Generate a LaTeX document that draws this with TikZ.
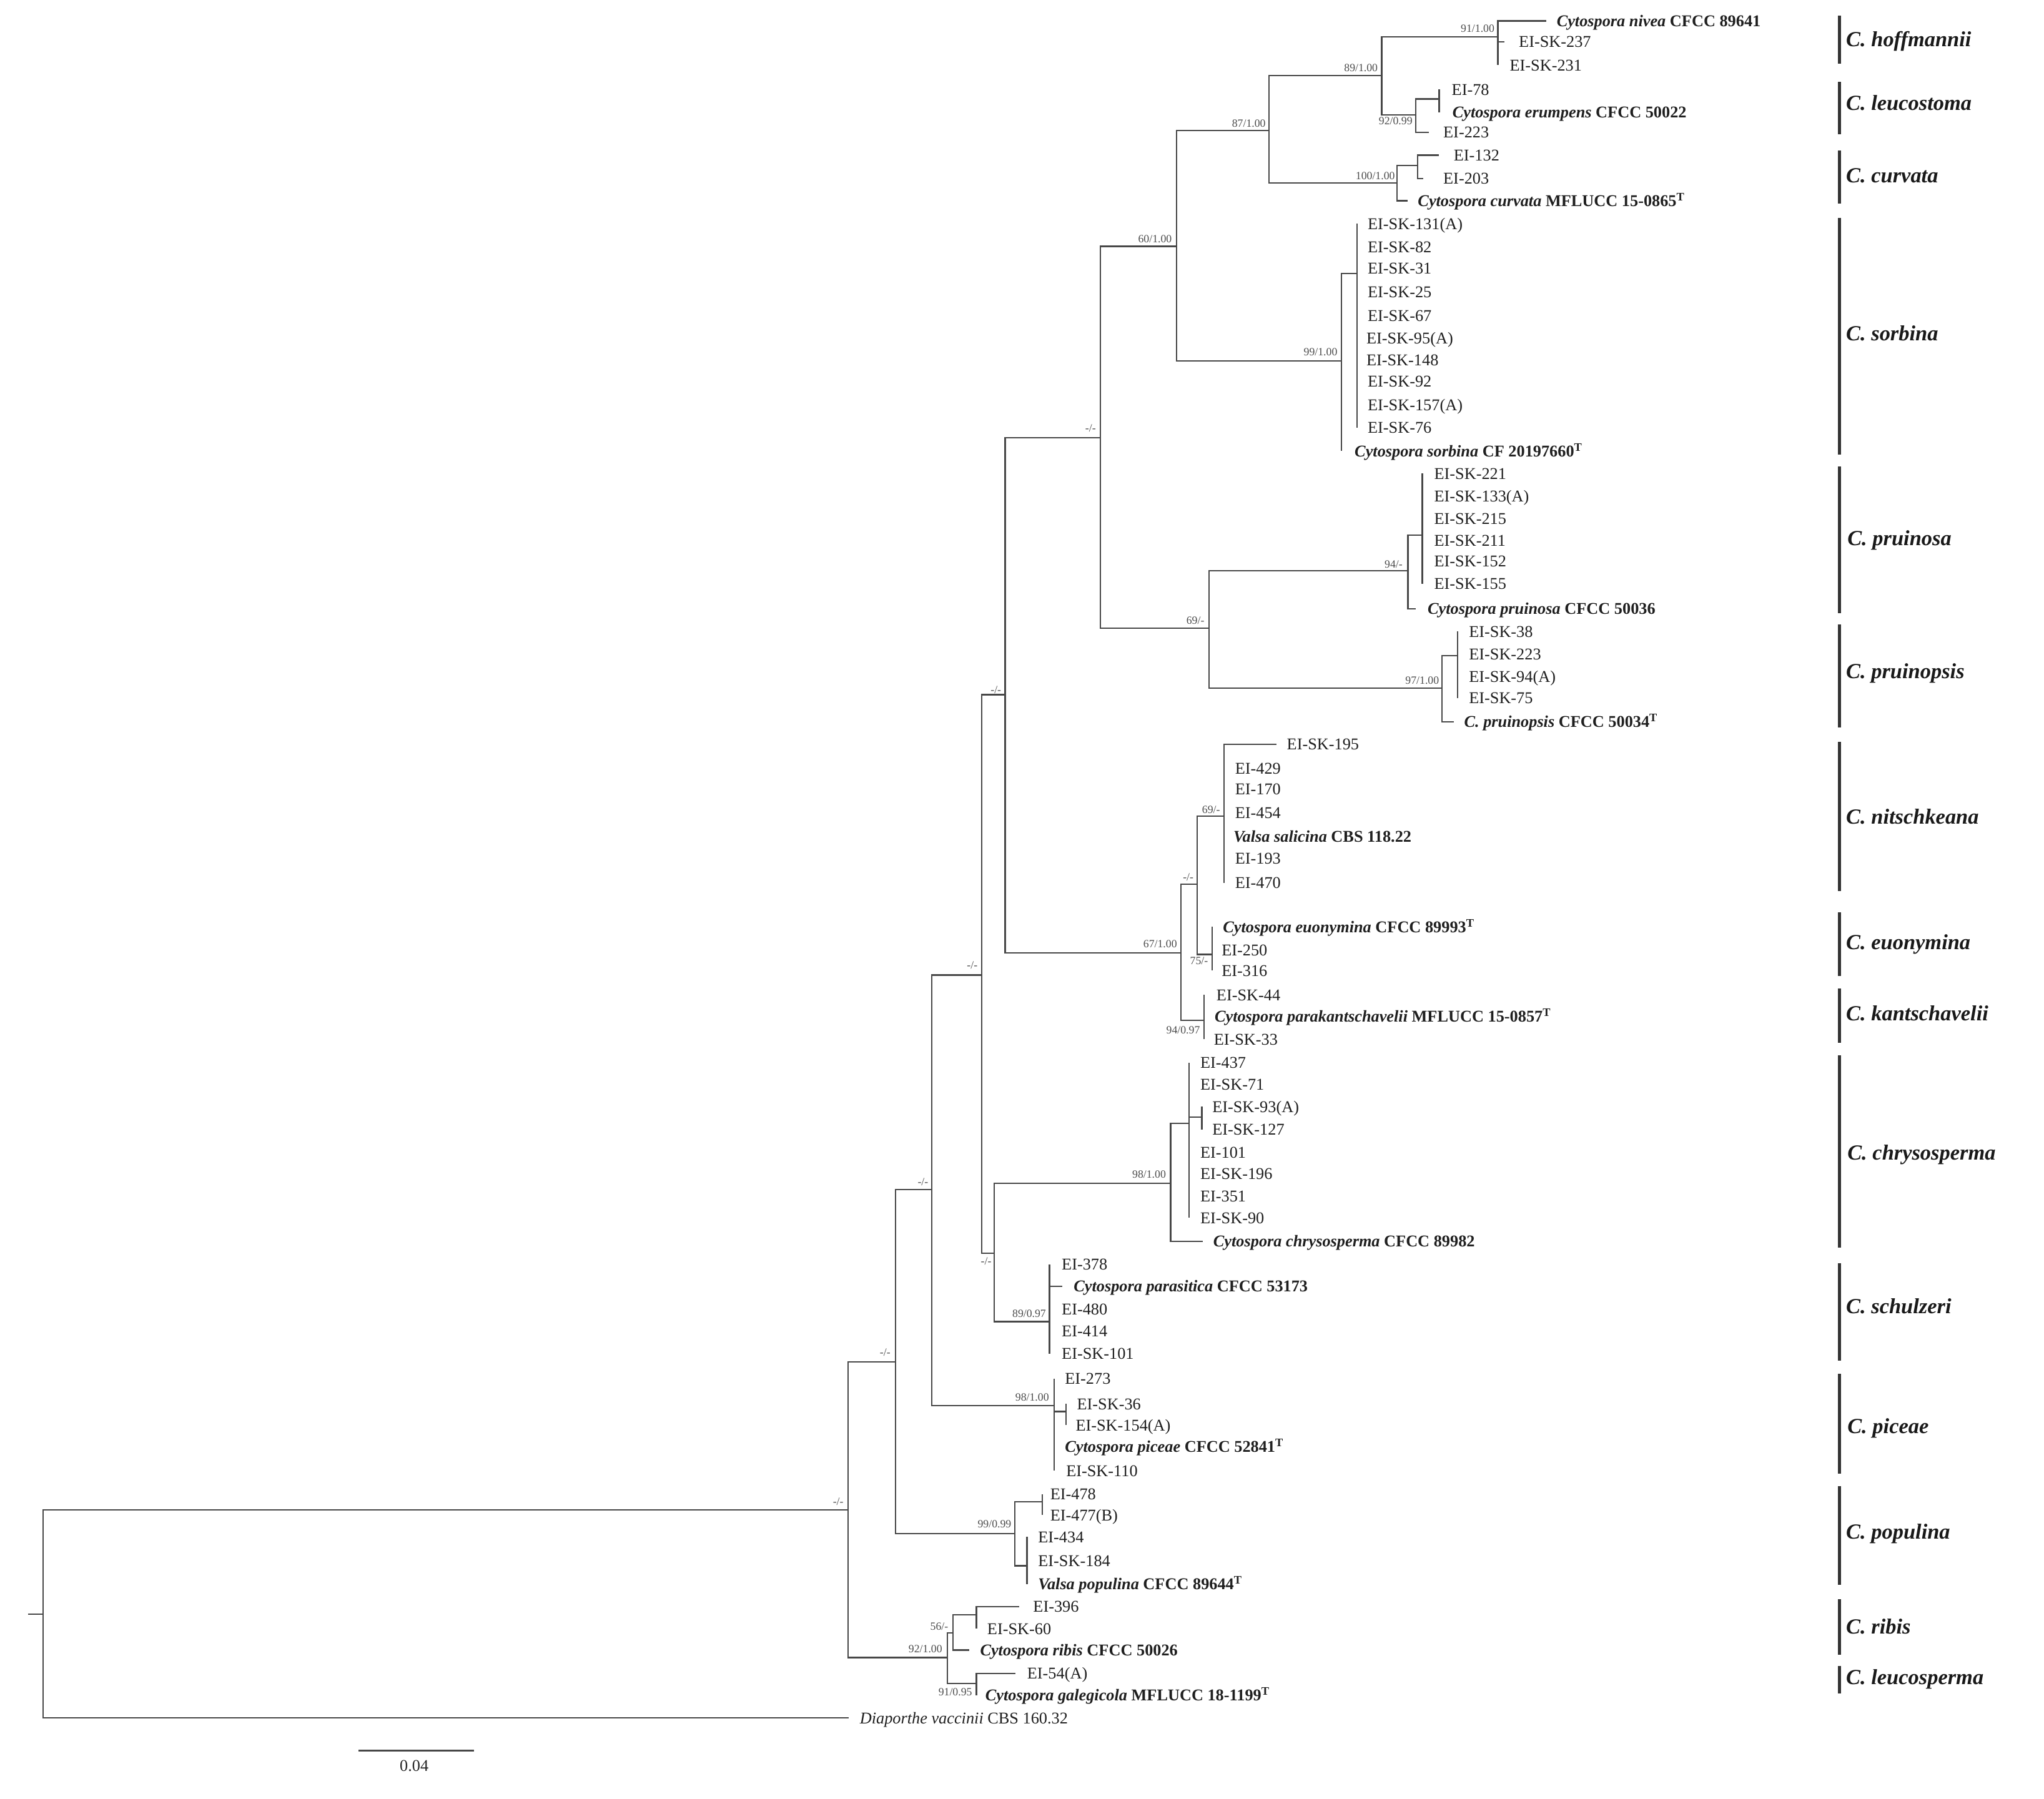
\documentclass[tikz,border=0pt]{standalone}
\usepackage{fontspec}
\setmainfont{Liberation Serif}
\newcommand\leaf[5]{\coordinate (#1e) at (#2,#4); \node[tiplab] (#1) at (#3,#4) {#5};}
\newcommand\bi[2]{\textbf{\textit{#1} #2}}
\newcommand\typ{\textsuperscript{T}}
\tikzset{
 branch/.style={draw=black!72, line width=1.1pt},
 tiplab/.style={anchor=base west, inner sep=0pt, yshift=-4.3pt, font=\fontsize{12.6}{14}\selectfont, text=black!88},
 suplab/.style={anchor=base, inner sep=0pt, yshift=-2.9pt, font=\fontsize{8.5}{10}\selectfont, text=black!70},
 cladelab/.style={anchor=base west, inner sep=0pt, yshift=-5.5pt, font=\fontsize{16.5}{18}\selectfont\bfseries\itshape, text=black!90},
 cladebar/.style={draw=black!80, line width=2.4pt},
}
\begin{document}
\begin{tikzpicture}[x=1pt,y=-1pt]
\useasboundingbox (0,0) rectangle (1568,1380);
% ---------- internal nodes ----------
\coordinate (rs) at (21.5,1238.5);
\coordinate (R) at (33,1238.5);
\coordinate (N1) at (650.6,1158.5);
\coordinate (N2) at (687,1045);
\coordinate (NRL) at (726.6,1271.7);
\coordinate (N3) at (714.8,912.6);
\coordinate (NPop) at (778.5,1176.6);
\coordinate (N4) at (753,748);
\coordinate (NPic) at (808.6,1078.5);
\coordinate (N5) at (771,533);
\coordinate (N6) at (762.7,961.5);
\coordinate (N7) at (844,335.7);
\coordinate (N67) at (906,731.2);
\coordinate (N60) at (902.5,189);
\coordinate (N69) at (927.5,482);
\coordinate (N87) at (973.5,100);
\coordinate (NSor) at (1029,277);
\coordinate (N89) at (1060,58);
\coordinate (NCur) at (1071.7,140.4);
\coordinate (NHof) at (1149,28.4);
\coordinate (NLeu) at (1086,88);
\coordinate (NLeu2) at (1104,76);
\coordinate (NCur2) at (1087.5,127);
\coordinate (NSor2) at (1041,210);
\coordinate (NPru) at (1080,438);
\coordinate (NPru2) at (1091,410.5);
\coordinate (NPsis) at (1106,528);
\coordinate (NPsis2) at (1118,503);
\coordinate (N67a) at (918.3,678.4);
\coordinate (NNit) at (939,626);
\coordinate (NEuo) at (930,732.3);
\coordinate (NKan) at (923.5,782.8);
\coordinate (NChr) at (898,907.8);
\coordinate (NChr2) at (912,862);
\coordinate (NChr3) at (922,857);
\coordinate (NSch) at (805,1014);
\coordinate (NPic2) at (817.7,1083);
\coordinate (NPop2) at (799.4,1152.3);
\coordinate (NPop3) at (787.8,1201.2);
\coordinate (NRib) at (731.2,1252.8);
\coordinate (NRib2) at (749,1239);
\coordinate (NLsp) at (749,1291.6);
% ---------- tips ----------
\leaf{t01}{1186}{1194}{16}{\bi{Cytospora nivea}{CFCC 89641}}
\leaf{t02}{1154}{1165}{32}{EI-SK-237}
\leaf{t03}{1149}{1158}{50}{EI-SK-231}
\leaf{t04}{1104}{1113.5}{68.7}{EI-78}
\leaf{t05}{1104}{1114}{86}{\bi{Cytospora erumpens}{CFCC 50022}}
\leaf{t06}{1096}{1107}{101.5}{EI-223}
\leaf{t07}{1104}{1115}{119}{EI-132}
\leaf{t08}{1092}{1107}{137}{EI-203}
\leaf{t09}{1080}{1087.5}{154}{\bi{Cytospora curvata}{MFLUCC 15-0865\typ}}
\leaf{t10}{1041}{1049}{171.6}{EI-SK-131(A)}
\leaf{t11}{1041}{1049}{189.3}{EI-SK-82}
\leaf{t12}{1041}{1049}{205.9}{EI-SK-31}
\leaf{t13}{1041}{1049}{224.2}{EI-SK-25}
\leaf{t14}{1041}{1049}{242.2}{EI-SK-67}
\leaf{t15}{1041}{1048}{259.5}{EI-SK-95(A)}
\leaf{t16}{1041}{1048}{276}{EI-SK-148}
\leaf{t17}{1041}{1049}{292.7}{EI-SK-92}
\leaf{t18}{1041}{1049}{310.8}{EI-SK-157(A)}
\leaf{t19}{1041}{1049}{328}{EI-SK-76}
\leaf{t20}{1029}{1039}{346}{\bi{Cytospora sorbina}{CF 20197660\typ}}
\leaf{t21}{1091}{1100}{363.3}{EI-SK-221}
\leaf{t22}{1091}{1100}{380.8}{EI-SK-133(A)}
\leaf{t23}{1091}{1100}{398}{EI-SK-215}
\leaf{t24}{1091}{1100}{414.7}{EI-SK-211}
\leaf{t25}{1091}{1100}{430.6}{EI-SK-152}
\leaf{t26}{1091}{1100}{447.9}{EI-SK-155}
\leaf{t27}{1086}{1095}{467}{\bi{Cytospora pruinosa}{CFCC 50036}}
\leaf{t28}{1118}{1126.7}{484.4}{EI-SK-38}
\leaf{t29}{1118}{1126.7}{502}{EI-SK-223}
\leaf{t30}{1118}{1126.7}{519}{EI-SK-94(A)}
\leaf{t31}{1118}{1126.7}{535.4}{EI-SK-75}
\leaf{t32}{1115.3}{1123}{553.7}{\bi{C. pruinopsis}{CFCC 50034\typ}}
\leaf{t33}{979}{987}{571}{EI-SK-195}
\leaf{t34}{939}{947.3}{589.3}{EI-429}
\leaf{t35}{939}{947.3}{605.4}{EI-170}
\leaf{t36}{939}{947.3}{623.5}{EI-454}
\leaf{t37}{939}{946}{641.5}{\bi{Valsa salicina}{CBS 118.22}}
\leaf{t38}{939}{947.3}{658.7}{EI-193}
\leaf{t39}{939}{947.3}{677.4}{EI-470}
\leaf{t40}{930}{938}{711}{\bi{Cytospora euonymina}{CFCC 89993\typ}}
\leaf{t41}{930}{937}{729}{EI-250}
\leaf{t42}{930}{937}{744.5}{EI-316}
\leaf{t43}{923.5}{933}{763.2}{EI-SK-44}
\leaf{t44}{923.5}{931.6}{779.6}{\bi{Cytospora parakantschavelii}{MFLUCC 15-0857\typ}}
\leaf{t45}{923.5}{931}{797.2}{EI-SK-33}
\leaf{t46}{912}{920.6}{815.2}{EI-437}
\leaf{t47}{912}{920.6}{831.8}{EI-SK-71}
\leaf{t48}{922}{929.8}{849}{EI-SK-93(A)}
\leaf{t49}{922}{929.8}{866.5}{EI-SK-127}
\leaf{t50}{912}{920.6}{883.9}{EI-101}
\leaf{t51}{912}{920.6}{900.6}{EI-SK-196}
\leaf{t52}{912}{920.6}{917.6}{EI-351}
\leaf{t53}{912}{920.6}{934.3}{EI-SK-90}
\leaf{t54}{922.7}{930.6}{952.3}{\bi{Cytospora chrysosperma}{CFCC 89982}}
\leaf{t55}{805}{814.3}{970}{EI-378}
\leaf{t56}{815}{823.5}{986.8}{\bi{Cytospora parasitica}{CFCC 53173}}
\leaf{t57}{805}{814.3}{1004.2}{EI-480}
\leaf{t58}{805}{814.3}{1021.2}{EI-414}
\leaf{t59}{805}{814.3}{1038.4}{EI-SK-101}
\leaf{t60}{808.6}{816.8}{1057.6}{EI-273}
\leaf{t61}{817.7}{826}{1077}{EI-SK-36}
\leaf{t62}{817.7}{825}{1093.3}{EI-SK-154(A)}
\leaf{t63}{808.6}{816.8}{1109.7}{\bi{Cytospora piceae}{CFCC 52841\typ}}
\leaf{t64}{808.6}{817.7}{1128.3}{EI-SK-110}
\leaf{t65}{799.4}{805.5}{1146.3}{EI-478}
\leaf{t66}{799.4}{805.5}{1162.3}{EI-477(B)}
\leaf{t67}{787.8}{796.2}{1179.2}{EI-434}
\leaf{t68}{787.8}{796.2}{1197.4}{EI-SK-184}
\leaf{t69}{787.8}{796.2}{1215.4}{\bi{Valsa populina}{CFCC 89644\typ}}
\leaf{t70}{781.6}{792.4}{1232.5}{EI-396}
\leaf{t71}{749}{757.2}{1249.5}{EI-SK-60}
\leaf{t72}{743.5}{751.7}{1266}{\bi{Cytospora ribis}{CFCC 50026}}
\leaf{t73}{779}{787.8}{1283.9}{EI-54(A)}
\leaf{t74}{749}{755.7}{1300.5}{\bi{Cytospora galegicola}{MFLUCC 18-1199\typ}}
\leaf{t75}{651}{659.4}{1318}{\textit{Diaporthe vaccinii} CBS 160.32}
% ---------- branches ----------
\draw[branch] (rs) -- (R);
\draw[branch] (R) |- (N1);
\draw[branch] (R) |- (t75e);
\draw[branch] (N1) |- (N2);
\draw[branch] (N1) |- (NRL);
\draw[branch] (N2) |- (N3);
\draw[branch] (N2) |- (NPop);
\draw[branch] (N3) |- (N4);
\draw[branch] (N3) |- (NPic);
\draw[branch] (N4) |- (N5);
\draw[branch] (N4) |- (N6);
\draw[branch] (N5) |- (N7);
\draw[branch] (N5) |- (N67);
\draw[branch] (N7) |- (N60);
\draw[branch] (N7) |- (N69);
\draw[branch] (N60) |- (N87);
\draw[branch] (N60) |- (NSor);
\draw[branch] (N87) |- (N89);
\draw[branch] (N87) |- (NCur);
\draw[branch] (N89) |- (NHof);
\draw[branch] (N89) |- (NLeu);
\foreach \c in {t01e,t02e,t03e} \draw[branch] (NHof) |- (\c);
\draw[branch] (NLeu) |- (NLeu2);
\draw[branch] (NLeu) |- (t06e);
\foreach \c in {t04e,t05e} \draw[branch] (NLeu2) |- (\c);
\draw[branch] (NCur) |- (NCur2);
\draw[branch] (NCur) |- (t09e);
\foreach \c in {t07e,t08e} \draw[branch] (NCur2) |- (\c);
\draw[branch] (NSor) |- (NSor2);
\draw[branch] (NSor) |- (t20e);
\foreach \c in {t10e,t11e,t12e,t13e,t14e,t15e,t16e,t17e,t18e,t19e} \draw[branch] (NSor2) |- (\c);
\draw[branch] (N69) |- (NPru);
\draw[branch] (N69) |- (NPsis);
\draw[branch] (NPru) |- (NPru2);
\draw[branch] (NPru) |- (t27e);
\foreach \c in {t21e,t22e,t23e,t24e,t25e,t26e} \draw[branch] (NPru2) |- (\c);
\draw[branch] (NPsis) |- (NPsis2);
\draw[branch] (NPsis) |- (t32e);
\foreach \c in {t28e,t29e,t30e,t31e} \draw[branch] (NPsis2) |- (\c);
\draw[branch] (N67) |- (N67a);
\draw[branch] (N67) |- (NKan);
\draw[branch] (N67a) |- (NNit);
\draw[branch] (N67a) |- (NEuo);
\foreach \c in {t33e,t34e,t35e,t36e,t37e,t38e,t39e} \draw[branch] (NNit) |- (\c);
\foreach \c in {t40e,t41e,t42e} \draw[branch] (NEuo) |- (\c);
\foreach \c in {t43e,t44e,t45e} \draw[branch] (NKan) |- (\c);
\draw[branch] (N6) |- (NChr);
\draw[branch] (N6) |- (NSch);
\draw[branch] (NChr) |- (NChr2);
\draw[branch] (NChr) |- (t54e);
\foreach \c in {t46e,t47e,NChr3,t50e,t51e,t52e,t53e} \draw[branch] (NChr2) |- (\c);
\foreach \c in {t48e,t49e} \draw[branch] (NChr3) |- (\c);
\foreach \c in {t55e,t56e,t57e,t58e,t59e} \draw[branch] (NSch) |- (\c);
\foreach \c in {t60e,NPic2,t63e,t64e} \draw[branch] (NPic) |- (\c);
\foreach \c in {t61e,t62e} \draw[branch] (NPic2) |- (\c);
\draw[branch] (NPop) |- (NPop2);
\draw[branch] (NPop) |- (NPop3);
\foreach \c in {t65e,t66e} \draw[branch] (NPop2) |- (\c);
\foreach \c in {t67e,t68e,t69e} \draw[branch] (NPop3) |- (\c);
\draw[branch] (NRL) |- (NRib);
\draw[branch] (NRL) |- (NLsp);
\draw[branch] (NRib) |- (NRib2);
\draw[branch] (NRib) |- (t72e);
\foreach \c in {t70e,t71e} \draw[branch] (NRib2) |- (\c);
\foreach \c in {t73e,t74e} \draw[branch] (NLsp) |- (\c);
% ---------- support values ----------
\node[suplab] (s01) at (643,1152) {-/-};
\node[suplab] (s02) at (679,1037.6) {-/-};
\node[suplab] (s03) at (708,906.4) {-/-};
\node[suplab] (s04) at (745.8,740.6) {-/-};
\node[suplab] (s05) at (764,529) {-/-};
\node[suplab] (s06) at (836.6,328.6) {-/-};
\node[suplab] (s07) at (886,183) {60/1.00};
\node[suplab] (s08) at (958,94.4) {87/1.00};
\node[suplab] (s09) at (1044,52) {89/1.00};
\node[suplab] (s10) at (1133.5,21.6) {91/1.00};
\node[suplab] (s11) at (1070.6,92.6) {92/0.99};
\node[suplab] (s12) at (1055,135) {100/1.00};
\node[suplab] (s13) at (1013,270) {99/1.00};
\node[suplab] (s14) at (917,476) {69/-};
\node[suplab] (s15) at (1069,432.8) {94/-};
\node[suplab] (s16) at (1091,522) {97/1.00};
\node[suplab] (s17) at (890,724) {67/1.00};
\node[suplab] (s18) at (911.5,673) {-/-};
\node[suplab] (s19) at (929,621) {69/-};
\node[suplab] (s20) at (919.8,736.8) {75/-};
\node[suplab] (s21) at (907.6,790.2) {94/0.97};
\node[suplab] (s22) at (756.5,967.6) {-/-};
\node[suplab] (s23) at (881.5,901) {98/1.00};
\node[suplab] (s24) at (789.5,1007.5) {89/0.97};
\node[suplab] (s25) at (791.8,1072) {98/1.00};
\node[suplab] (s26) at (762.9,1169) {99/0.99};
\node[suplab] (s27) at (709.9,1265) {92/1.00};
\node[suplab] (s28) at (720.5,1247.5) {56/-};
\node[suplab] (s29) at (732.8,1298) {91/0.95};
% ---------- clade bars and names ----------
\draw[cladebar] (1411,12) -- (1411,49);
\draw[cladebar] (1411,63) -- (1411,103);
\draw[cladebar] (1411,115.5) -- (1411,156);
\draw[cladebar] (1411,167) -- (1411,349);
\draw[cladebar] (1411,358) -- (1411,470.5);
\draw[cladebar] (1411,479) -- (1411,558);
\draw[cladebar] (1411,569) -- (1411,683.6);
\draw[cladebar] (1411,699.8) -- (1411,749);
\draw[cladebar] (1411,758.4) -- (1411,800);
\draw[cladebar] (1411,809.7) -- (1411,957);
\draw[cladebar] (1411,969) -- (1411,1043.7);
\draw[cladebar] (1411,1054) -- (1411,1130.6);
\draw[cladebar] (1411,1140) -- (1411,1216);
\draw[cladebar] (1411,1227) -- (1411,1269.5);
\draw[cladebar] (1411,1278) -- (1411,1299);
\node[cladelab] (c01) at (1416,30) {C. hoffmannii};
\node[cladelab] (c02) at (1416,79) {C. leucostoma};
\node[cladelab] (c03) at (1416,134.8) {C. curvata};
\node[cladelab] (c04) at (1416,255.8) {C. sorbina};
\node[cladelab] (c05) at (1417,412.8) {C. pruinosa};
\node[cladelab] (c06) at (1416,515) {C. pruinopsis};
\node[cladelab] (c07) at (1416,626.6) {C. nitschkeana};
\node[cladelab] (c08) at (1416,723) {C. euonymina};
\node[cladelab] (c09) at (1416,777.6) {C. kantschavelii};
\node[cladelab] (c10) at (1417,884.5) {C. chrysosperma};
\node[cladelab] (c11) at (1416,1002) {C. schulzeri};
\node[cladelab] (c12) at (1417,1094) {C. piceae};
\node[cladelab] (c13) at (1416,1175) {C. populina};
\node[cladelab] (c14) at (1416,1248) {C. ribis};
\node[cladelab] (c15) at (1416,1286.7) {C. leucosperma};
% ---------- scale bar ----------
\coordinate (sb1) at (275,1343);
\coordinate (sb2) at (363.5,1343);
\draw[branch, line width=1.6pt] (sb1) -- (sb2);
\node[anchor=base, inner sep=0pt, yshift=-4.3pt, font=\fontsize{12.6}{14}\selectfont, text=black!85] (sbl) at (317.7,1354.7) {0.04};
\end{tikzpicture}
\end{document}
